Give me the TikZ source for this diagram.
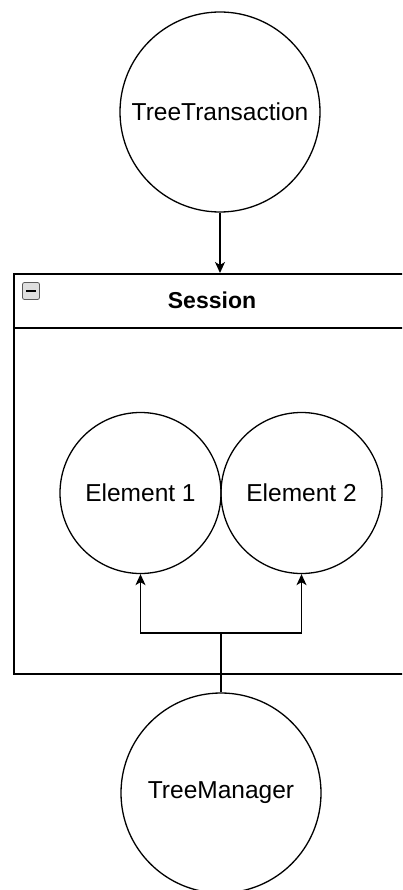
\documentclass[tikz,border=0pt]{standalone}
\usepackage{fontspec}
\setmainfont{Liberation Sans}
\usetikzlibrary{arrows.meta}
\begin{document}
\begin{tikzpicture}[x=1pt,y=1pt,
  circ/.style={circle,draw,line width=1.3pt,inner sep=0pt,minimum size=#1,font=\fontsize{24.5}{28}\selectfont},
  conn/.style={line width=1.5pt,-{Stealth[length=11pt,width=10pt,inset=3pt]}},
  frame/.style={draw,line width=1.5pt,inner sep=0pt},
  ]
\useasboundingbox (0,0) rectangle (402,-890);
\clip (0,0) rectangle (402,-890);
\node[circ=200pt] (tt) at (220,-112) {TreeTransaction};
\node[frame,minimum width=398pt,minimum height=400pt,anchor=north west] (session) at (13,-273) {};
\draw[line width=1.5pt] (13,-328) -- (411,-328);
\node[font=\bfseries\fontsize{23}{27}\selectfont] (stitle) at (212,-300) {Session};
\node[draw=gray!70!black,fill=gray!25,rounded corners=2pt,minimum size=17pt,inner sep=0pt,line width=0.8pt] (collapse) at (31,-291) {};
\draw[line width=1.6pt] ([xshift=-5pt]collapse.center) -- ([xshift=5pt]collapse.center);
\node[circ=161pt] (e1) at (140.5,-493) {Element 1};
\node[circ=161pt] (e2) at (301.5,-493) {Element 2};
\node[circ=200pt] (tm) at (221,-793) {TreeManager};
\draw[conn] (tt.south) -- (tt.south |- session.north);
\coordinate (j) at (221,-633);
\draw[conn] (tm.north) -- (j) -| (e1.south);
\draw[conn] (j) -| (e2.south);
\end{tikzpicture}
\end{document}
